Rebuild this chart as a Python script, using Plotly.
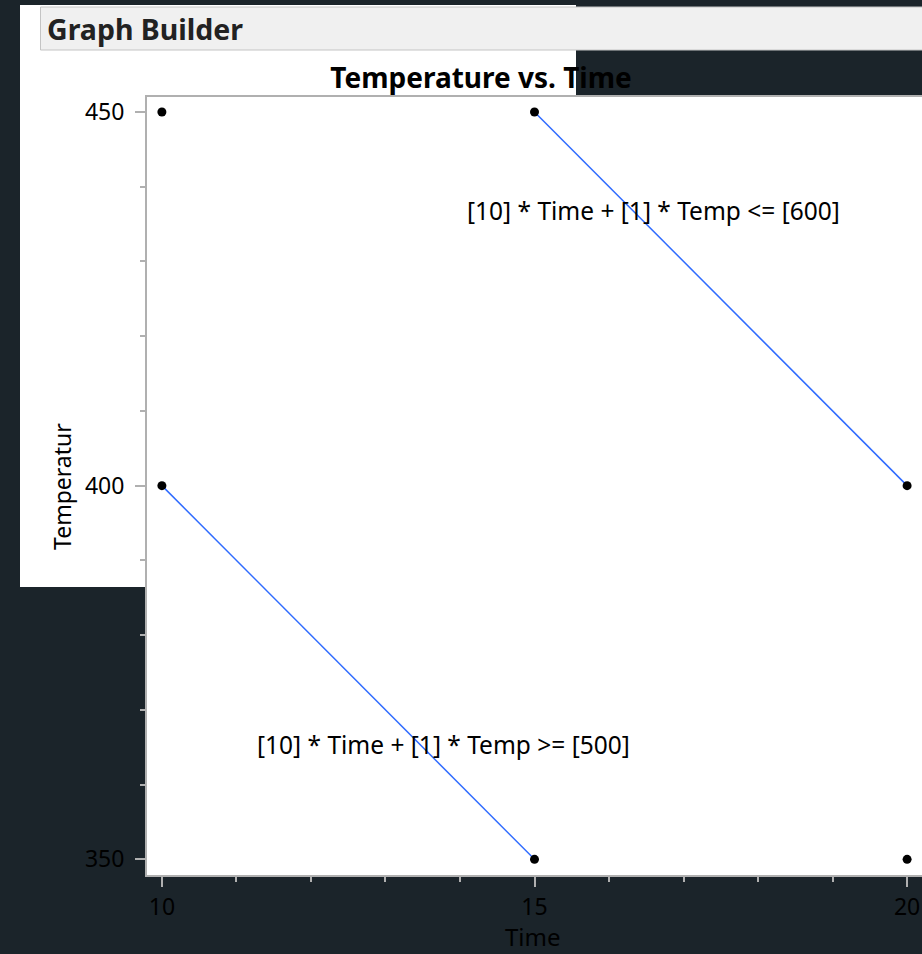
import plotly.graph_objects as go

# Design points (Time, Temperature)
time_pts = [10, 15, 10, 20, 15, 20]
temp_pts = [450, 450, 400, 400, 350, 350]

# Linear constraint boundaries: 10*Time + 1*Temp = 500 and = 600
lower_time = [10, 15]
lower_temp = [400, 350]
upper_time = [15, 20]
upper_temp = [450, 400]

lower_label = "[10] * Time + [1] * Temp >= [500]"
upper_label = "[10] * Time + [1] * Temp <= [600]"

W, H = 922, 954
ML, MR, MT, MB = 147, 0, 97, 79
PW, PH = W - ML - MR, H - MT - MB

FONT = "Noto Sans"
DARK = "#1b242a"
AXIS_GRAY = "#b0b0b0"


def px(x):
    return (x - ML) / PW


def py(y):
    return (H - MB - y) / PH


fig = go.Figure()

fig.add_trace(go.Scatter(x=lower_time, y=lower_temp, mode="lines",
                         line=dict(color="#2f6bff", width=1.5),
                         hoverinfo="skip", showlegend=False))
fig.add_trace(go.Scatter(x=upper_time, y=upper_temp, mode="lines",
                         line=dict(color="#2f6bff", width=1.5),
                         hoverinfo="skip", showlegend=False))
fig.add_trace(go.Scatter(x=time_pts, y=temp_pts, mode="markers",
                         marker=dict(color="black", size=9),
                         showlegend=False))

# Window panel and header bar
fig.add_shape(type="rect", xref="paper", yref="paper",
              x0=px(20), x1=px(576), y0=py(587), y1=py(5),
              fillcolor="white", line=dict(width=0), layer="below")
fig.add_shape(type="rect", xref="paper", yref="paper",
              x0=px(40.5), x1=px(930), y0=py(50), y1=py(7),
              fillcolor="#f0f0f0", line=dict(color="#c4c4c4", width=1),
              layer="below")

fig.add_annotation(text="<b>Graph Builder</b>", xref="paper", yref="paper",
                   x=px(45), y=py(29), xanchor="left", yanchor="middle",
                   showarrow=False, font=dict(family=FONT, size=28.5, color="#222222"))

# Constraint labels
fig.add_annotation(text=upper_label, x=16.6, y=436.75, showarrow=False,
                   xanchor="center", yanchor="middle",
                   font=dict(family=FONT, size=24.5, color="black"))
fig.add_annotation(text=lower_label, x=13.78, y=365.4, showarrow=False,
                   xanchor="center", yanchor="middle",
                   font=dict(family=FONT, size=24.5, color="black"))

# Axis titles
fig.add_annotation(text="Temperatur", xref="paper", yref="paper",
                   x=px(62), y=py(487), textangle=-90, showarrow=False,
                   xanchor="center", yanchor="middle",
                   font=dict(family=FONT, size=23, color="black"))
fig.add_annotation(text="Time", xref="paper", yref="paper",
                   x=px(533), y=py(954), showarrow=False, borderpad=0,
                   xanchor="center", yanchor="bottom",
                   font=dict(family=FONT, size=24, color="black"))

fig.update_layout(
    width=W, height=H,
    margin=dict(l=ML, r=MR, t=MT, b=MB),
    paper_bgcolor=DARK, plot_bgcolor="white",
    title=dict(text="<b>Temperature vs. Time</b>", x=481 / W, xanchor="center",
               xref="container", yref="container", y=1 - 78 / H, yanchor="middle",
               font=dict(family=FONT, size=28, color="black")),
    font=dict(family=FONT, size=23, color="black"),
)

fig.update_xaxes(range=[9.8, 20.2], tickmode="linear", tick0=10, dtick=5,
                 ticks="outside", ticklen=10, tickwidth=2, tickcolor=AXIS_GRAY,
                 showline=True, linecolor=AXIS_GRAY, linewidth=2, mirror=True,
                 showgrid=False, zeroline=False,
                 tickfont=dict(family=FONT, size=23, color="black"),
                 minor=dict(dtick=1, ticks="outside", ticklen=5, tickcolor=AXIS_GRAY,
                            tickwidth=1.5, showgrid=False))
fig.update_yaxes(range=[347.9, 452], tickmode="linear", tick0=350, dtick=50,
                 ticks="outside", ticklen=10, tickwidth=2, tickcolor=AXIS_GRAY,
                 showline=True, linecolor=AXIS_GRAY, linewidth=2, mirror=False,
                 showgrid=False, zeroline=False, ticklabelstandoff=6,
                 tickfont=dict(family=FONT, size=23, color="black"),
                 minor=dict(dtick=10, ticks="outside", ticklen=5, tickcolor=AXIS_GRAY,
                            tickwidth=1.5, showgrid=False))

fig.write_html("out.html")
